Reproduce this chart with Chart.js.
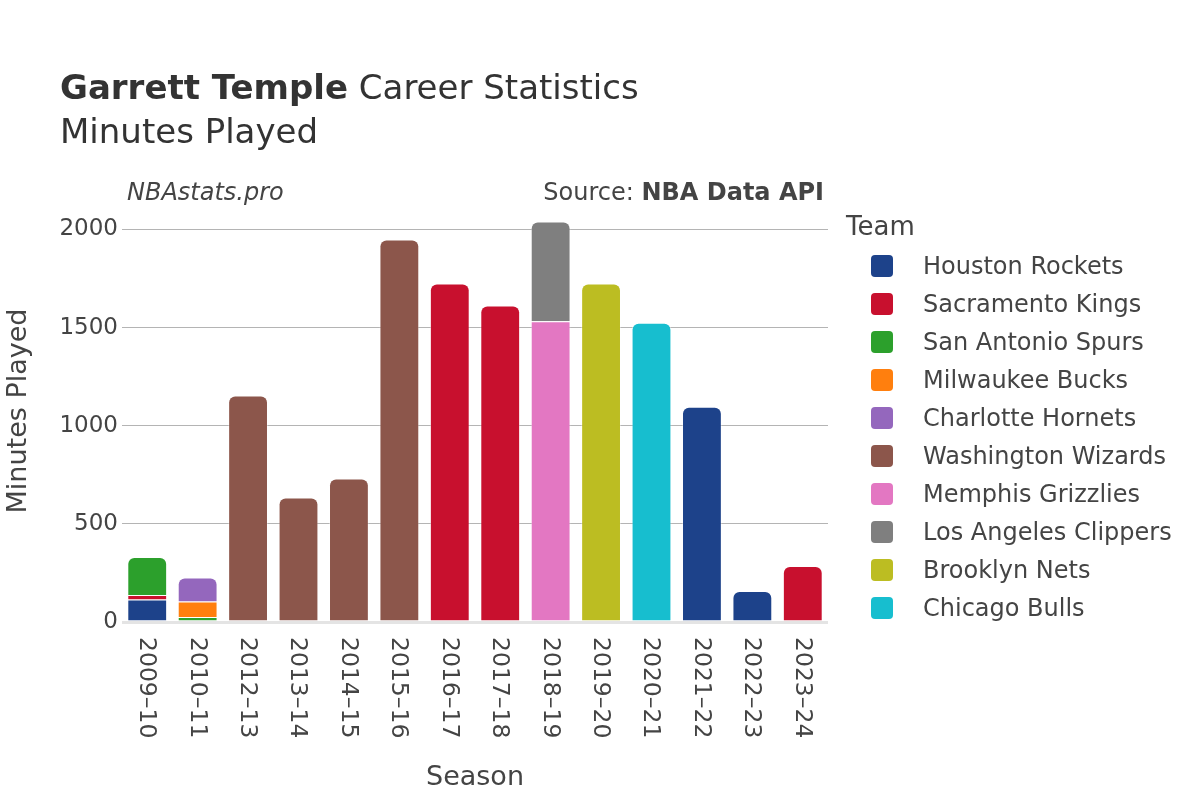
<!DOCTYPE html>
<html>
<head>
<meta charset="utf-8">
<script src="https://cdn.jsdelivr.net/npm/chart.js@4/dist/chart.umd.min.js"></script>
<style>
  html, body { margin: 0; padding: 0; background: #fff; }
  canvas { display: block; }
</style>
</head>
<body>
<canvas id="chart" width="1200" height="800"></canvas>
<script>
var seasons = ['2009–10', '2010–11', '2012–13', '2013–14', '2014–15', '2015–16', '2016–17',
               '2017–18', '2018–19', '2019–20', '2020–21', '2021–22', '2022–23', '2023–24'];

var houstonRockets    = [115, null, null, null, null, null, null, null, null, null, null, 1097, 158, null];
var sacramentoKings   = [22, null, null, null, null, null, 1725, 1613, null, null, null, null, null, 285];
var sanAntonioSpurs   = [194, 25, null, null, null, null, null, null, null, null, null, null, null, null];
var milwaukeeBucks    = [null, 79, null, null, null, null, null, null, null, null, null, null, null, null];
var charlotteHornets  = [null, 123, null, null, null, null, null, null, null, null, null, null, null, null];
var washingtonWizards = [null, null, 1154, 634, 731, 1949, null, null, null, null, null, null, null, null];
var memphisGrizzlies  = [null, null, null, null, null, null, null, null, 1532, null, null, null, null, null];
var laClippers        = [null, null, null, null, null, null, null, null, 509, null, null, null, null, null];
var brooklynNets      = [null, null, null, null, null, null, null, null, null, 1725, null, null, null, null];
var chicagoBulls      = [null, null, null, null, null, null, null, null, null, null, 1525, null, null, null];

var yTicks = [0, 500, 1000, 1500, 2000];

var FONT = '"DejaVu Sans", sans-serif';
var TEXT = '#444';

function team(label, data, color) {
    return {
        label: label,
        data: data,
        backgroundColor: color,
        borderColor: 'rgba(255,255,255,0.35)',
        borderWidth: 1,
        borderRadius: 7,
        barPercentage: 0.79,
        categoryPercentage: 1
    };
}

var extras = {
    id: 'extras',
    afterDraw: function (chart) {
        var ctx = chart.ctx;
        var area = chart.chartArea;
        var xScale = chart.scales.x;
        ctx.save();

        // title
        ctx.fillStyle = '#333';
        ctx.textBaseline = 'middle';
        ctx.textAlign = 'left';
        ctx.font = 'bold 34px ' + FONT;
        ctx.fillText('Garrett Temple', 60, 90);
        var w = ctx.measureText('Garrett Temple').width;
        ctx.font = '34px ' + FONT;
        ctx.fillText(' Career Statistics', 60 + w, 90);
        ctx.fillText('Minutes Played', 60, 134);

        // watermark / source
        ctx.fillStyle = TEXT;
        ctx.font = 'italic 24px ' + FONT;
        ctx.fillText('NBAstats.pro', 127, 194);
        ctx.textAlign = 'right';
        ctx.font = 'bold 24px ' + FONT;
        ctx.fillText('NBA Data API', 824, 194);
        var bw = ctx.measureText('NBA Data API').width;
        ctx.font = '24px ' + FONT;
        ctx.fillText('Source: ', 824 - bw, 194);

        // x tick labels, rotated clockwise
        ctx.font = '23.5px ' + FONT;
        ctx.textAlign = 'left';
        seasons.forEach(function (s, i) {
            var x = xScale.getPixelForTick(i);
            ctx.save();
            ctx.translate(x, area.bottom + 15);
            ctx.rotate(Math.PI / 2);
            ctx.fillText(s, 0, 1);
            ctx.restore();
        });

        // legend
        ctx.font = '26px ' + FONT;
        ctx.fillText('Team', 846, 228);
        ctx.font = '24px ' + FONT;
        chart.data.datasets.forEach(function (ds, i) {
            var cy = 266 + i * 38;
            ctx.fillStyle = ds.backgroundColor;
            ctx.beginPath();
            ctx.roundRect(871, cy - 11, 22, 22, 4);
            ctx.fill();
            ctx.fillStyle = TEXT;
            ctx.fillText(ds.label, 923, cy + 2);
        });

        ctx.restore();
    }
};

var ctx1 = document.getElementById('chart').getContext('2d');
var myChart = new Chart(ctx1, {
    type: 'bar',
    data: {
        labels: seasons,
        datasets: [
            team('Houston Rockets', houstonRockets, '#1d428a'),
            team('Sacramento Kings', sacramentoKings, '#c8102e'),
            team('San Antonio Spurs', sanAntonioSpurs, '#2ca02c'),
            team('Milwaukee Bucks', milwaukeeBucks, '#ff7f0e'),
            team('Charlotte Hornets', charlotteHornets, '#9467bd'),
            team('Washington Wizards', washingtonWizards, '#8c564b'),
            team('Memphis Grizzlies', memphisGrizzlies, '#e377c2'),
            team('Los Angeles Clippers', laClippers, '#7f7f7f'),
            team('Brooklyn Nets', brooklynNets, '#bcbd22'),
            team('Chicago Bulls', chicagoBulls, '#17becf')
        ]
    },
    options: {
        responsive: false,
        devicePixelRatio: 1,
        animation: false,
        layout: { padding: { left: 0, right: 372, top: 200, bottom: 0 } },
        plugins: {
            legend: { display: false },
            tooltip: { enabled: false }
        },
        scales: {
            x: {
                stacked: true,
                grid: { display: false },
                border: { display: false },
                ticks: { display: false },
                title: {
                    display: true,
                    text: 'Season',
                    color: TEXT,
                    font: { family: FONT, size: 27 },
                    padding: { top: 0, bottom: 6 }
                },
                afterFit: function (scale) { scale.height = 178; }
            },
            y: {
                stacked: true,
                min: 0,
                max: 2150,
                afterBuildTicks: function (scale) {
                    scale.ticks = yTicks.map(function (v) { return { value: v }; });
                },
                ticks: {
                    color: TEXT,
                    font: { family: FONT, size: 23 },
                    padding: 4,
                    callback: function (v) { return String(v); }
                },
                grid: {
                    drawTicks: false,
                    color: function (c) { return c.tick && c.tick.value === 0 ? '#e4e4e4' : '#b4b4b4'; },
                    lineWidth: function (c) { return c.tick && c.tick.value === 0 ? 3 : 1; }
                },
                border: { display: false },
                title: {
                    display: true,
                    text: 'Minutes Played',
                    color: TEXT,
                    font: { family: FONT, size: 27 },
                    padding: { top: 3, bottom: 0 }
                },
                afterFit: function (scale) { scale.width = 122; }
            }
        }
    },
    plugins: [extras]
});
</script>
</body>
</html>
